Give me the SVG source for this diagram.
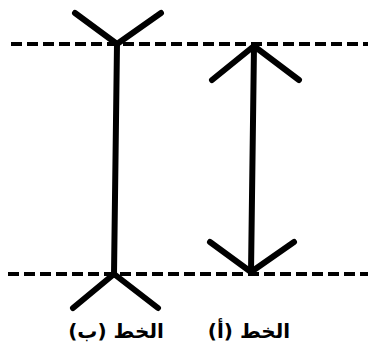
<svg xmlns="http://www.w3.org/2000/svg" width="368" height="352" viewBox="0 0 368 352">
<style>
.dash{stroke:#000;stroke-width:4;stroke-dasharray:11 5;fill:none}
.ln{stroke:#000;stroke-width:6;stroke-linecap:round;fill:none}
.lbl{font-family:"DejaVu Sans",sans-serif;font-weight:bold;font-size:20px;fill:#000;text-anchor:middle}
</style>
<rect width="368" height="352" fill="#fff"/>
<g id="guides">
<line class="dash" x1="11" y1="44" x2="368" y2="44"/>
<line class="dash" x1="8" y1="274" x2="368" y2="274"/>
</g>
<g id="line-b">
<line class="ln" x1="117" y1="44" x2="114" y2="274"/>
<polyline class="ln" points="75,13 117,44 161,13"/>
<polyline class="ln" points="73,308 114,274 158,308"/>
<text class="lbl" x="116" y="338" direction="rtl">الخط (ب)</text>
</g>
<g id="line-a">
<line class="ln" x1="254" y1="46" x2="251" y2="272"/>
<polyline class="ln" points="212,80 254,46 299,80"/>
<polyline class="ln" points="210,242 251,272 294,242"/>
<text class="lbl" x="249" y="338" direction="rtl">الخط (أ)</text>
</g>
</svg>
